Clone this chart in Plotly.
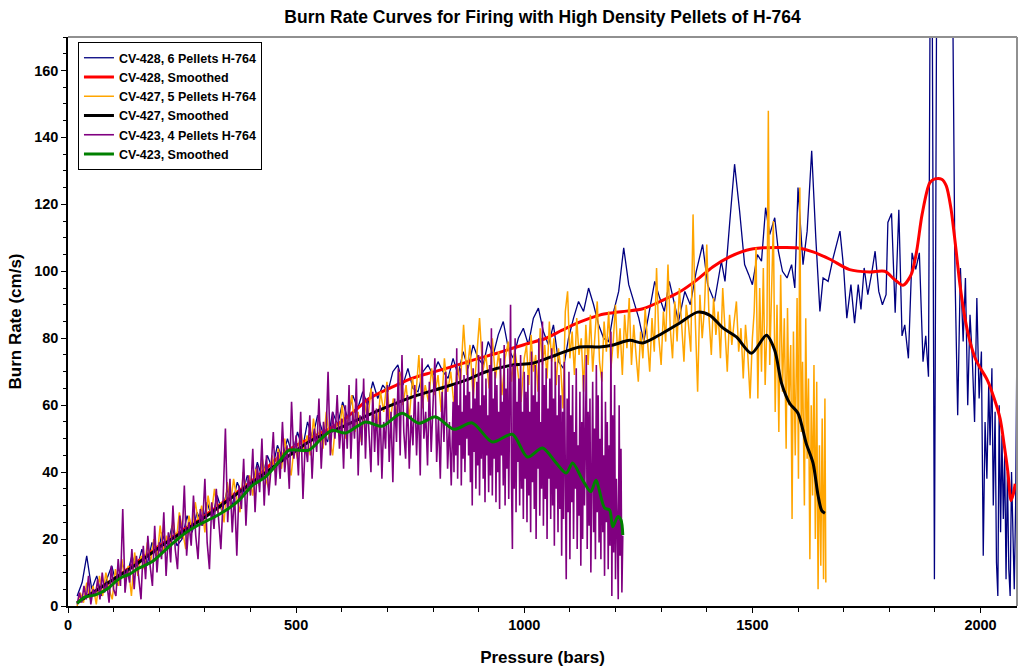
import plotly.graph_objects as go

# CV-428, 6 pellets (raw)
p428 = [20, 31, 41, 52, 63, 74, 85, 96, 107, 118, 129, 140, 151, 162, 173, 184, 195, 206, 217, 228,
        239, 250, 261, 272, 283, 294, 305, 316, 327, 338, 349, 360, 371, 382, 393,
        404, 415, 426, 437, 448, 459, 470, 481, 492, 503, 514, 525, 536, 547, 558, 569, 580, 591, 602, 613,
        624, 635, 646, 657, 668, 679, 690, 701, 712, 723, 734, 745, 756, 767, 778, 789, 800,
        811, 822, 833, 844, 855, 866, 877, 888, 899, 910, 921, 932, 943, 954, 965, 976, 987, 998, 1009, 1020,
        1031, 1042, 1053, 1064, 1075, 1086, 1097, 1108, 1119, 1130, 1141, 1152, 1163, 1174, 1185, 1196, 1207,
        1218, 1229, 1240,
        1251, 1262, 1274, 1286, 1297, 1307, 1318, 1328, 1338, 1352, 1364, 1377, 1391, 1402, 1417, 1432, 1440,
        1450, 1461, 1472, 1483, 1492, 1500, 1511, 1520, 1529, 1538, 1549, 1557, 1566, 1576, 1586, 1593, 1600,
        1611, 1620, 1630, 1639, 1648, 1655, 1666, 1677,
        1692, 1700, 1707, 1716, 1724, 1732, 1738, 1745, 1753, 1761, 1769, 1777, 1785, 1793, 1797, 1805, 1813,
        1821, 1828, 1834, 1842, 1850, 1858, 1866, 1874, 1880, 1886,
        1892, 1899, 1906, 1920, 1935, 1944, 1950, 1956, 1962, 1967, 1972, 1977, 1982, 1987, 1992, 1997, 2002,
        2006, 2010, 2014, 2018, 2021, 2025, 2028, 2032, 2035, 2038, 2041, 2044, 2047, 2050, 2053, 2056, 2059,
        2062, 2065, 2068, 2071, 2074, 2077, 2080]
r428 = [3, 7, 15, 5, 9, 3, 8, 12, 6, 13, 9, 15, 11, 17, 12, 19, 14, 22, 17, 24,
        18, 20, 27, 22, 28, 24, 31, 26, 33, 28, 35, 30, 37, 33, 39,
        36, 43, 38, 45, 41, 48, 44, 50, 45, 52, 47, 55, 50, 57, 52, 49, 58, 54, 61, 56,
        63, 59, 64, 60, 67, 62, 66, 64, 70, 72, 66, 71, 65, 64, 70, 72, 69,
        73, 70, 68, 74, 69, 76, 71, 78, 74, 72, 79, 75, 81, 85, 77, 74, 80, 83, 78, 86,
        89, 82, 78, 84, 73, 71, 80, 86, 91, 88, 95, 90, 84, 80, 79, 88, 94,
        107, 96, 91,
        86, 79, 88, 97, 92, 88, 97, 91, 85, 94, 90, 100, 108, 96, 91, 103, 97,
        114, 132, 118, 102, 99, 96, 105, 103, 119, 111, 116, 106, 100, 98, 102, 95, 125,
        102, 112, 136, 110, 88, 98, 97, 104,
        112, 101, 86, 96, 84.5, 96, 88.6, 101, 93, 99, 106, 94, 90, 93, 114.6, 117.3, 87.6,
        118.4, 80.7, 84, 74, 105.5, 100.6, 105.5, 73, 80.7, 68.5,
        260, 8, 260, 280, 250, 100, 57, 101, 79, 98, 60, 87, 74, 55, 92, 62, 76,
        15, 55, 38, 66, 48, 71, 30, 58, 13, 3, 60, 22, 51, 26, 45, 8, 40,
        11, 3, 40, 20, 5, 30, 82]

# CV-428 smoothed
p428s = [20, 60, 100, 150, 200, 250, 300, 350, 400, 434, 462, 500, 530, 560, 594, 630, 660, 682, 720, 754,
         790, 829, 865, 901, 940, 974, 1010, 1048, 1083, 1121, 1165, 1195, 1224, 1260, 1303, 1340, 1377, 1413,
         1450, 1487, 1523, 1560, 1597, 1633, 1670, 1713, 1757, 1790, 1812, 1830, 1848, 1860, 1872, 1889, 1900,
         1915, 1925, 1935, 1945, 1955, 1966, 1977, 1990, 2000, 2015, 2030, 2043, 2052, 2060, 2067, 2072, 2076]
s428 = [1, 4.5, 8, 13, 18, 22.5, 27, 32, 37, 41, 44.5, 48, 50, 52, 54.6, 58.5, 62, 63.6, 66, 68,
        69.5, 71, 72.5, 74, 75.5, 77, 78.5, 80, 82.4, 84.8, 86.9, 87.6, 88.1, 88.8, 91.3, 93.8, 97.3, 101.3,
        104.3, 106.3, 107, 107.1, 107, 105.8, 103.6, 100.5, 99.8, 100, 97.5, 95.8, 99, 106, 117, 126.5, 127.6,
        127.5, 125.5, 119, 108, 96, 86, 79, 73.5, 71, 67.5, 62, 56, 48, 40, 31.5, 33.5, 36.5]

# CV-427, 5 pellets (raw)
p427 = [20, 27, 34, 41, 48, 55, 62, 69, 76, 83, 90, 97, 104, 111, 118, 125, 132, 139, 146, 153,
        160, 167, 174, 181, 188, 195, 202, 209, 216, 223, 230, 237, 244, 251, 258, 265, 272, 279, 286, 293,
        300, 307, 314, 321, 328, 335, 342, 349, 356, 363, 370, 377, 384, 391, 398,
        405, 412, 419, 426, 433, 440, 447, 454, 461, 468, 475, 482, 489, 496, 503, 510, 517, 524, 531, 538,
        545, 552, 559, 566, 573, 580, 587, 594, 601, 608, 615, 622, 629, 636, 643, 650, 657, 664, 671, 678,
        685, 692, 699, 706, 713, 720, 727, 734, 741, 748, 755, 762, 769, 776, 783, 790, 797, 804, 811, 818,
        825, 832, 839, 846, 853, 860, 867, 874, 881, 888, 895, 902, 909, 916, 923, 930, 937, 944, 951, 958,
        965, 972, 979, 986, 993, 1000,
        1005, 1010, 1015, 1020, 1025, 1030, 1035, 1040, 1045, 1050, 1055, 1060, 1065, 1070, 1075, 1080, 1085,
        1090, 1095, 1100, 1105, 1110, 1115, 1120, 1125, 1130, 1135, 1140, 1145, 1150, 1155, 1160, 1165, 1170,
        1175, 1180, 1185, 1190, 1195, 1200, 1205, 1210, 1215, 1220, 1225, 1230, 1235, 1240, 1245, 1250, 1255,
        1260, 1265, 1270, 1275, 1280, 1285, 1290, 1295, 1300, 1305, 1310, 1315, 1320, 1325, 1330, 1335, 1340,
        1345, 1350, 1355, 1360, 1365, 1370, 1375, 1380, 1385, 1390, 1395, 1400, 1405, 1410, 1415, 1420, 1425,
        1430, 1435, 1440, 1445, 1450, 1455, 1460, 1465, 1470, 1475, 1480, 1485, 1490, 1495, 1500,
        1504, 1508, 1512, 1516, 1520, 1524, 1528, 1532, 1535, 1538, 1542, 1546, 1550, 1554, 1558, 1562, 1566,
        1570, 1574, 1577, 1580, 1584, 1587, 1590, 1594, 1598, 1601, 1604, 1607, 1610, 1614, 1617, 1620, 1623,
        1626, 1629, 1632, 1635, 1638, 1641, 1644, 1647, 1650, 1653, 1656, 1659, 1661]
r427 = [0, 4, 1, 7, 2, 6, 0.5, 9, 3, 10, 5, 2, 11, 6, 14, 7, 12, 3, 16, 9,
        15, 11, 19, 13, 20, 14, 24, 16, 21, 17, 26, 19, 28, 22, 17, 27, 23, 31, 25, 30,
        22, 33, 27, 35, 28, 31, 25, 37, 30, 38, 32, 28, 40, 34, 39,
        33, 41, 36, 44, 38, 35, 45, 40, 47, 41, 50, 43, 39, 48, 44, 53, 46, 51, 45, 56,
        48, 53, 47, 58, 50, 45, 55, 51, 60, 50, 57, 63, 52, 58, 49, 61, 55, 65, 57, 53,
        64, 58, 67, 55, 62, 57, 70, 60, 66, 56, 68, 62, 75, 59, 66, 61, 71, 63, 69, 58,
        74, 64, 70, 60, 72, 66, 84, 69, 78, 62, 73, 86, 70, 75, 65, 80, 68, 76, 63, 74,
        79, 67, 77, 70, 61, 74,
        78, 66, 81, 70, 75, 64, 83, 72, 78, 68, 85, 73, 80, 66, 77, 71, 59,
        88, 94, 74, 82, 69, 86, 75, 80, 64, 84, 72, 87, 70, 81, 91, 73, 67,
        85, 76, 88, 71, 79, 90, 74, 83, 69, 87, 77, 92, 72, 84, 75, 67, 82,
        74, 89, 78, 70, 86, 76, 101, 80, 72, 88, 79, 102, 83, 74, 91, 79, 95,
        82, 73, 90, 84, 76, 117, 85, 64, 93, 80, 89, 108, 86, 75, 92, 81, 88,
        74, 95, 83, 70, 87, 78, 85, 91, 76, 83, 68, 84, 75, 62, 80,
        88, 107, 62, 95, 70, 101, 66, 84, 148, 72, 96, 115, 58, 90, 52, 99, 64,
        86, 47, 89, 60, 78, 26, 82, 45, 92, 38, 125, 52, 73, 30, 86, 44, 68,
        14, 60, 33, 72, 20, 67, 5, 48, 12, 56, 8, 62, 7]

# CV-427 smoothed
p427s = [20, 60, 100, 150, 200, 250, 300, 350, 400, 462, 535, 609, 682, 755, 828, 872, 916, 975, 1018, 1070,
         1121, 1165, 1195, 1231, 1260, 1303, 1340, 1380, 1406, 1436, 1465, 1498, 1531, 1549, 1564, 1582, 1600,
         1618, 1633, 1644, 1652, 1659]
s427 = [1, 4.5, 8, 12.5, 17.5, 22, 26.5, 31.5, 36.5, 42.7, 49.6, 54, 58.5, 62.5, 65.5, 67.5, 70, 72, 72.5, 75,
        77.4, 77.4, 78, 79.4, 78.6, 81.5, 84.5, 87.8, 86.9, 83, 80.4, 75.5, 80.9, 76.4, 66.5, 60.5, 57.6,
        48.6, 42.7, 33, 28.5, 27.7]

# CV-423, 4 pellets (raw)
p423 = [20, 25, 30, 35, 40, 45, 50, 55, 60, 65, 70, 75, 80, 85, 90, 95, 100, 105, 110, 115,
        120, 125, 130, 135, 140, 145, 150, 155, 160, 165, 170, 175, 180, 185, 190, 195, 200, 205, 210, 215,
        220, 225, 230, 235, 240, 245, 250, 255, 260, 265, 270, 275, 280, 285, 290, 295, 300, 305, 310, 315,
        320, 325, 330, 335, 340, 345, 350, 355, 360, 365, 370, 375, 380, 385, 390, 395, 400, 405, 410, 415,
        420, 425, 430, 435, 440, 445, 450, 455, 460, 465, 470, 475, 480, 485, 490, 495, 500, 505, 510, 515,
        520, 525, 530, 535, 540, 545, 550, 555, 560, 565, 570, 575, 580, 585, 590, 595, 600,
        604, 608, 612, 616, 620, 624, 628, 632, 636, 640, 644, 648, 652, 656, 660, 664, 668, 672, 676, 680,
        684, 688, 692, 696, 700, 704, 708, 712, 716, 720, 724, 728, 732, 736, 740, 744, 748, 752, 756, 760,
        764, 768, 772, 776, 780, 784, 788, 792, 796, 800, 804, 808, 812, 816, 820, 824, 828, 832, 836, 840,
        844,
        846, 848, 850, 852, 854, 856, 858, 860, 862, 864, 866, 868, 870, 872, 874, 876, 878, 880, 882, 884,
        886, 888, 890, 892, 894, 896, 898, 900, 902, 904, 906, 908, 910, 912, 914, 916, 918, 920, 922, 924,
        926, 928, 930, 932, 934, 936, 938, 940, 942, 944, 946, 948, 950, 952, 954, 956, 958, 960, 962, 964,
        966, 968, 970, 972, 974, 976, 978, 980, 982, 984, 986, 988, 990, 992, 994, 996, 998, 1000, 1002, 1004,
        1006, 1008, 1010, 1012, 1014, 1016, 1018, 1020, 1022, 1024, 1026, 1028, 1030, 1032, 1034, 1036, 1038,
        1040, 1042, 1044, 1046, 1048, 1050, 1052, 1054, 1056, 1058, 1060, 1062, 1064, 1066, 1068, 1070, 1072,
        1074, 1076, 1078, 1080, 1082, 1084, 1086, 1088, 1090, 1092, 1094, 1096, 1098, 1100, 1102, 1104, 1106,
        1108, 1110, 1112, 1114, 1116, 1118, 1120, 1122, 1124, 1126, 1128, 1130, 1132, 1134, 1136, 1138, 1140,
        1142, 1144, 1146, 1148, 1150, 1152, 1154, 1156, 1158, 1160, 1162, 1164, 1166, 1168, 1170, 1172, 1174,
        1176, 1178, 1180, 1182, 1184, 1186, 1188, 1190, 1192, 1194, 1196, 1198, 1200, 1202, 1204, 1206, 1208,
        1210, 1212, 1214, 1216]
r423 = [0.5, 4, 1, 6, 2, 9, 0.5, 5, 3, 8, 2, 10, 4, 7, 1, 12, 5, 3, 14, 6,
        29, 4, 11, 7, 17, 5, 15, 9, 2, 18, 8, 21, 12, 6, 24, 10, 19, 14, 28, 9,
        22, 13, 30, 17, 11, 27, 20, 36, 15, 25, 18, 33, 21, 14, 29, 24, 38, 19, 11, 31,
        23, 35, 27, 17, 32, 53, 25, 38, 22, 34, 15, 36, 29, 44, 24, 39, 33, 47, 28, 42,
        34, 50, 30, 45, 33, 41, 52, 36, 46, 38, 55, 40, 48, 35, 61, 44, 51, 39, 58, 32,
        49, 43, 57, 38, 53, 46, 62, 41, 55, 48, 70, 45, 58, 50, 63, 47, 56,
        41, 60, 47, 66, 44, 58, 50, 68, 39, 57, 48, 68, 44, 62, 51, 40, 64, 46, 59, 42,
        60, 38, 55, 47, 66, 43, 58, 37, 62, 49, 71, 45, 75, 52, 44, 63, 41, 57, 48, 66,
        45, 61, 39, 74, 50, 58, 42, 67, 46, 60, 74, 43, 56, 38, 64, 49, 70, 41, 55, 36,
        61,
        40, 66, 45, 77, 38, 60, 48, 71, 36, 58, 44, 69, 40, 63, 50, 72, 45, 64, 37, 59,
        30, 71, 46, 62, 35, 67, 42, 75, 33, 60, 44, 79, 38, 63, 31, 68, 45, 57, 34, 72,
        39, 83, 33, 62, 44, 70, 31, 66, 40, 58, 29, 74, 45, 61, 36, 78, 30, 65, 41, 71,
        32, 66, 90, 38, 17, 72, 35, 80, 28, 61, 43, 68, 30, 75, 35, 58, 26, 70, 38, 64,
        25, 69, 33, 58, 22, 76, 37, 63, 29, 72, 20, 61, 41, 80, 27, 55, 35, 85, 24, 66,
        32, 71, 20, 59, 38, 68, 26, 77, 30, 62, 18, 73, 35, 57, 22, 69, 29, 63, 15, 58,
        26, 73, 35, 8, 62, 28, 70, 14, 57, 31, 66, 20, 52, 35, 71, 17, 48, 27, 64, 12,
        55, 20, 69, 30, 48, 75, 17, 58, 24, 62, 10, 44, 67, 22, 53, 14, 72, 28, 63, 19,
        50, 14, 70, 22, 45, 9, 61, 25, 55, 11, 48, 18, 82, 3, 57, 16, 66, 8, 38, 24,
        2, 60, 15, 47, 4, 21]

# CV-423 smoothed
p423s = [20, 38, 60, 89, 104, 118, 135, 155, 184, 221, 257, 290, 320, 345, 374, 404, 433, 462, 484, 528,
         555, 579, 609, 652, 688, 732, 769, 806, 846, 886, 930, 974, 1007, 1040, 1070, 1092, 1106, 1128, 1146,
         1157, 1176, 1187, 1194, 1205, 1212, 1216]
s423 = [0.8, 2.7, 3.3, 5.4, 7.3, 8.6, 9.5, 11.3, 13.2, 17.7, 21.8, 24.5, 26.5, 28.5, 31.5, 36, 38.6, 43, 46.5, 46.6,
        50, 52.5, 51.7, 55, 53.7, 57.6, 54.6, 56.5, 52.8, 54.7, 49, 51.3, 44.5, 47.2, 42.7, 39.7, 42.7, 37.6, 34.1,
        37.6, 29.3, 28.7, 23.7, 26.7, 25.7, 21.2]

serie = [
    ("CV-428, 6 Pellets H-764", p428, r428, "#000080", 1.3, False),
    ("CV-428, Smoothed", p428s, s428, "#ff0000", 3, True),
    ("CV-427, 5 Pellets H-764", p427, r427, "#ffa500", 1.5, False),
    ("CV-427, Smoothed", p427s, s427, "#000000", 3, True),
    ("CV-423, 4 Pellets H-764", p423, r423, "#800080", 1.6, False),
    ("CV-423, Smoothed", p423s, s423, "#008000", 3, True),
]

font = "Liberation Sans, Arial, sans-serif"
fig = go.Figure()
for nome, x, y, colore, spessore, liscia in serie:
    linea = dict(color=colore, width=spessore)
    if liscia:
        linea["shape"] = "spline"
        linea["smoothing"] = 0.8
    fig.add_trace(go.Scatter(x=x, y=y, mode="lines", name=nome, line=linea))

fig.update_layout(
    width=1019, height=671,
    margin=dict(l=68, r=2, t=37, b=65, autoexpand=False),
    paper_bgcolor="white", plot_bgcolor="white",
    font=dict(family=font, color="black"),
    title=dict(text="Burn Rate Curves for Firing with High Density Pellets of H-764",
               x=0.5, xref="paper", y=0.9747, yref="container", xanchor="center", yanchor="middle",
               font=dict(size=17.5, weight="bold")),
    legend=dict(x=0.0105, y=0.991, xanchor="left", yanchor="top", bgcolor="white",
                bordercolor="black", borderwidth=1, itemwidth=30,
                font=dict(size=12.5, weight="bold")),
    showlegend=True,
)
fig.update_xaxes(range=[0, 2080], tick0=0, dtick=500, ticks="outside", ticklen=5, tickwidth=1,
                 tickcolor="black", showline=True, linecolor="black", linewidth=1.5,
                 showgrid=False, zeroline=False, automargin=False,
                 minor=dict(dtick=100, ticks="outside", ticklen=4, tickcolor="black", showgrid=False),
                 tickfont=dict(size=14.5, weight="bold"),
                 title=dict(text="Pressure (bars)", font=dict(size=17, weight="bold"), standoff=19))
fig.update_yaxes(range=[0, 170], tick0=0, dtick=20, ticks="outside", ticklen=5, tickwidth=1,
                 tickcolor="black", showline=True, linecolor="black", linewidth=1.5,
                 showgrid=False, zeroline=False, automargin=False,
                 minor=dict(dtick=5, ticks="outside", ticklen=3, tickcolor="black", showgrid=False),
                 tickfont=dict(size=14.5, weight="bold"),
                 title=dict(text="Burn Rate (cm/s)", font=dict(size=17, weight="bold"), standoff=8))
# bordo grigio sopra e a destra dell'area del grafico
fig.add_shape(type="line", xref="paper", yref="paper", x0=0, x1=1, y0=1, y1=1,
              line=dict(color="#909090", width=2))
fig.add_shape(type="line", xref="paper", yref="paper", x0=1, x1=1, y0=0, y1=1,
              line=dict(color="#909090", width=2))

# niente margine della pagina, cosi' la figura riempie esattamente la finestra
fig.write_html("out.html", config={"displayModeBar": False},
               post_script="document.body.style.margin='0';document.body.style.overflow='hidden';")
